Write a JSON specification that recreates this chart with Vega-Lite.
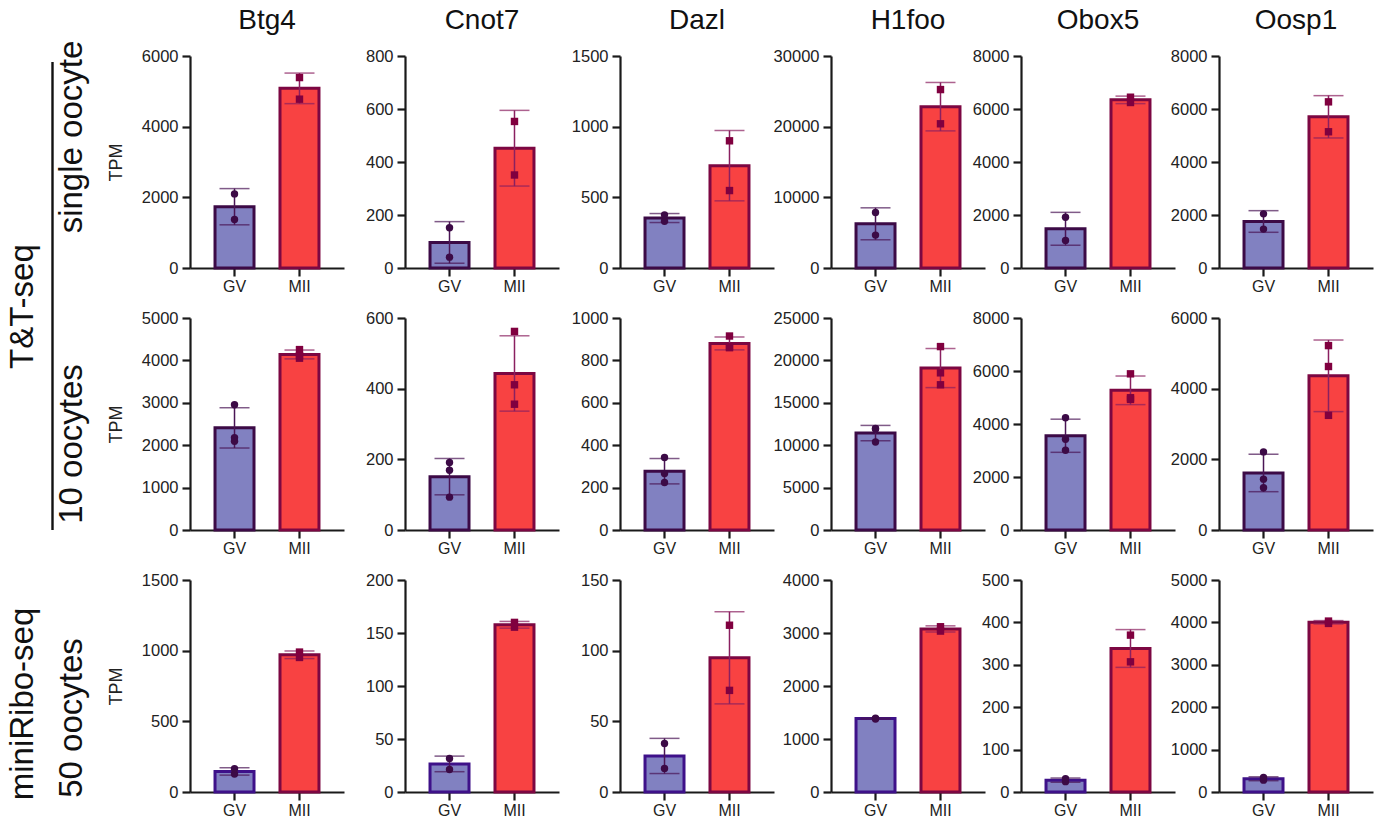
{
"$schema": "https://vega.github.io/schema/vega-lite/v6.json",
"background": "white",
"padding": {"left": 6, "top": 7, "right": 4, "bottom": 2},
"datasets": {"tpm": [
{"set":"single oocyte","gene":"Btg4","stage":"GV","tpm":2097},{"set":"single oocyte","gene":"Btg4","stage":"GV","tpm":1372},
{"set":"single oocyte","gene":"Btg4","stage":"MII","tpm":5390},{"set":"single oocyte","gene":"Btg4","stage":"MII","tpm":4778},
{"set":"single oocyte","gene":"Cnot7","stage":"GV","tpm":152},{"set":"single oocyte","gene":"Cnot7","stage":"GV","tpm":41},
{"set":"single oocyte","gene":"Cnot7","stage":"MII","tpm":553},{"set":"single oocyte","gene":"Cnot7","stage":"MII","tpm":351},
{"set":"single oocyte","gene":"Dazl","stage":"GV","tpm":331},{"set":"single oocyte","gene":"Dazl","stage":"GV","tpm":376},
{"set":"single oocyte","gene":"Dazl","stage":"MII","tpm":900},{"set":"single oocyte","gene":"Dazl","stage":"MII","tpm":548},
{"set":"single oocyte","gene":"H1foo","stage":"GV","tpm":7853},{"set":"single oocyte","gene":"H1foo","stage":"GV","tpm":4655},
{"set":"single oocyte","gene":"H1foo","stage":"MII","tpm":25251},{"set":"single oocyte","gene":"H1foo","stage":"MII","tpm":20407},
{"set":"single oocyte","gene":"Obox5","stage":"GV","tpm":1918},{"set":"single oocyte","gene":"Obox5","stage":"GV","tpm":1041},
{"set":"single oocyte","gene":"Obox5","stage":"MII","tpm":6245},{"set":"single oocyte","gene":"Obox5","stage":"MII","tpm":6445},
{"set":"single oocyte","gene":"Oosp1","stage":"GV","tpm":2044},{"set":"single oocyte","gene":"Oosp1","stage":"GV","tpm":1467},
{"set":"single oocyte","gene":"Oosp1","stage":"MII","tpm":6270},{"set":"single oocyte","gene":"Oosp1","stage":"MII","tpm":5141},
{"set":"10 oocytes","gene":"Btg4","stage":"GV","tpm":2955},{"set":"10 oocytes","gene":"Btg4","stage":"GV","tpm":2092},{"set":"10 oocytes","gene":"Btg4","stage":"GV","tpm":2179},
{"set":"10 oocytes","gene":"Btg4","stage":"MII","tpm":4255},{"set":"10 oocytes","gene":"Btg4","stage":"MII","tpm":4052},{"set":"10 oocytes","gene":"Btg4","stage":"MII","tpm":4114},
{"set":"10 oocytes","gene":"Cnot7","stage":"GV","tpm":191},{"set":"10 oocytes","gene":"Cnot7","stage":"GV","tpm":169},{"set":"10 oocytes","gene":"Cnot7","stage":"GV","tpm":93},
{"set":"10 oocytes","gene":"Cnot7","stage":"MII","tpm":562},{"set":"10 oocytes","gene":"Cnot7","stage":"MII","tpm":411},{"set":"10 oocytes","gene":"Cnot7","stage":"MII","tpm":356},
{"set":"10 oocytes","gene":"Dazl","stage":"GV","tpm":342},{"set":"10 oocytes","gene":"Dazl","stage":"GV","tpm":266},{"set":"10 oocytes","gene":"Dazl","stage":"GV","tpm":224},
{"set":"10 oocytes","gene":"Dazl","stage":"MII","tpm":915},{"set":"10 oocytes","gene":"Dazl","stage":"MII","tpm":860},{"set":"10 oocytes","gene":"Dazl","stage":"MII","tpm":865},
{"set":"10 oocytes","gene":"H1foo","stage":"GV","tpm":11980},{"set":"10 oocytes","gene":"H1foo","stage":"GV","tpm":11920},{"set":"10 oocytes","gene":"H1foo","stage":"GV","tpm":10384},
{"set":"10 oocytes","gene":"H1foo","stage":"MII","tpm":21630},{"set":"10 oocytes","gene":"H1foo","stage":"MII","tpm":18534},{"set":"10 oocytes","gene":"H1foo","stage":"MII","tpm":17124},
{"set":"10 oocytes","gene":"Obox5","stage":"GV","tpm":4238},{"set":"10 oocytes","gene":"Obox5","stage":"GV","tpm":3423},{"set":"10 oocytes","gene":"Obox5","stage":"GV","tpm":3009},
{"set":"10 oocytes","gene":"Obox5","stage":"MII","tpm":5893},{"set":"10 oocytes","gene":"Obox5","stage":"MII","tpm":4928},{"set":"10 oocytes","gene":"Obox5","stage":"MII","tpm":4991},
{"set":"10 oocytes","gene":"Oosp1","stage":"GV","tpm":2210},{"set":"10 oocytes","gene":"Oosp1","stage":"GV","tpm":1439},{"set":"10 oocytes","gene":"Oosp1","stage":"GV","tpm":1194},
{"set":"10 oocytes","gene":"Oosp1","stage":"MII","tpm":5219},{"set":"10 oocytes","gene":"Oosp1","stage":"MII","tpm":4627},{"set":"10 oocytes","gene":"Oosp1","stage":"MII","tpm":3245},
{"set":"50 oocytes","gene":"Btg4","stage":"GV","tpm":127},{"set":"50 oocytes","gene":"Btg4","stage":"GV","tpm":164},
{"set":"50 oocytes","gene":"Btg4","stage":"MII","tpm":990},{"set":"50 oocytes","gene":"Btg4","stage":"MII","tpm":952},
{"set":"50 oocytes","gene":"Cnot7","stage":"GV","tpm":31.7},{"set":"50 oocytes","gene":"Cnot7","stage":"GV","tpm":21.3},
{"set":"50 oocytes","gene":"Cnot7","stage":"MII","tpm":155.5},{"set":"50 oocytes","gene":"Cnot7","stage":"MII","tpm":160},
{"set":"50 oocytes","gene":"Dazl","stage":"GV","tpm":34.3},{"set":"50 oocytes","gene":"Dazl","stage":"GV","tpm":16.7},
{"set":"50 oocytes","gene":"Dazl","stage":"MII","tpm":118},{"set":"50 oocytes","gene":"Dazl","stage":"MII","tpm":71.9},
{"set":"50 oocytes","gene":"H1foo","stage":"GV","tpm":1378},{"set":"50 oocytes","gene":"H1foo","stage":"GV","tpm":1392},
{"set":"50 oocytes","gene":"H1foo","stage":"MII","tpm":3036},{"set":"50 oocytes","gene":"H1foo","stage":"MII","tpm":3118},
{"set":"50 oocytes","gene":"Obox5","stage":"GV","tpm":24.4},{"set":"50 oocytes","gene":"Obox5","stage":"GV","tpm":31.5},
{"set":"50 oocytes","gene":"Obox5","stage":"MII","tpm":370},{"set":"50 oocytes","gene":"Obox5","stage":"MII","tpm":307},
{"set":"50 oocytes","gene":"Oosp1","stage":"GV","tpm":280},{"set":"50 oocytes","gene":"Oosp1","stage":"GV","tpm":345},
{"set":"50 oocytes","gene":"Oosp1","stage":"MII","tpm":3976},{"set":"50 oocytes","gene":"Oosp1","stage":"MII","tpm":4031}
]},
"config": {
  "font": "Liberation Sans",
  "view": {"stroke": null},
  "numberFormat": "d",
  "axis": {"grid": false, "domainColor": "#1a1a1a", "domainWidth": 2.2, "tickColor": "#1a1a1a", "tickWidth": 2.2, "tickSize": 8, "labelFont": "Liberation Sans", "labelFontSize": 16.5, "labelColor": "#222222", "titleFont": "Liberation Sans", "titleFontSize": 18, "titleFontWeight": "normal", "titleColor": "#222222"},
  "axisX": {"labelAngle": 0, "labelPadding": 2, "labelFontSize": 16},
  "axisY": {"labelPadding": 4, "titlePadding": 16, "titleFontSize": 18, "labelFlush": false, "labelOverlap": false},
  "title": {"font": "Liberation Sans", "fontSize": 28, "fontWeight": "normal", "color": "#111111", "offset": 13, "frame": "group"}
},
"bounds": "flush",
"align": "each",
"columns": 13,
"spacing": {"row": 50, "column": 17},
"concat": [
{"width": 1, "height": 212, "title": {"text": "T&T-seq", "orient": "left", "fontSize": 33, "offset": 11, "frame": "bounds", "anchor": "middle", "dx": -13}, "data": {"values": [{"part": "bracket"}]}, "mark": {"type": "rule", "color": "#111111", "strokeWidth": 2.4, "clip": false}, "encoding": {"y": {"datum": 0, "type": "quantitative", "scale": {"domain": [0, 1], "range": [474, 6], "nice": false, "zero": false}, "axis": null}, "y2": {"datum": 1}}},
{"width": 103, "height": 212, "title": {"text": "single oocyte", "orient": "left", "fontSize": 33, "offset": -19, "frame": "group", "anchor": "middle", "dx": 25}, "data": {"values": [{}]}, "mark": {"type": "point", "opacity": 0}, "encoding": {}},
{"width": 154, "height": 212, "title": "Btg4", "data": {"name": "tpm"}, "transform": [{"filter": "datum.set==='single oocyte'&&datum.gene==='Btg4'"}],
 "encoding": {"x": {"field": "stage", "type": "nominal", "scale": {"domain": ["GV","MII"], "paddingInner": 0.4, "paddingOuter": 0.385}, "axis": {"title": null}}},
 "layer": [
  {"mark": {"type": "bar", "strokeWidth": 3}, "encoding": {"y": {"aggregate": "mean", "field": "tpm", "type": "quantitative", "title": "TPM", "scale": {"domain": [0,6000], "nice": false}, "axis": {"values": [0,2000,4000,6000], "format": "d"}}, "fill": {"condition": {"test": "datum.stage==='GV'", "value": "#8181c1"}, "value": "#f84242"}, "stroke": {"condition": {"test": "datum.stage==='GV'", "value": "#3c0a46"}, "value": "#7c0742"}}},
  {"mark": {"type": "errorbar", "extent": "stdev", "ticks": {"size": 30, "thickness": 1.5}, "rule": {"strokeWidth": 1.5}}, "encoding": {"y": {"field": "tpm", "type": "quantitative", "title": "TPM"}, "color": {"condition": {"test": "datum.stage==='GV'", "value": "#4a1555"}, "value": "#8a2060"}}},
  {"mark": {"type": "point", "filled": true, "size": 55, "opacity": 1}, "encoding": {"y": {"field": "tpm", "type": "quantitative", "title": "TPM"}, "shape": {"condition": {"test": "datum.stage==='GV'", "value": "circle"}, "value": "square"}, "color": {"condition": {"test": "datum.stage==='GV'", "value": "#3c0a46"}, "value": "#80003f"}}}
 ]},
{"width": 27, "height": 1, "data": {"values": [{}]}, "mark": {"type": "point", "opacity": 0}, "encoding": {}},
{"width": 154, "height": 212, "title": "Cnot7", "data": {"name": "tpm"}, "transform": [{"filter": "datum.set==='single oocyte'&&datum.gene==='Cnot7'"}],
 "encoding": {"x": {"field": "stage", "type": "nominal", "scale": {"domain": ["GV","MII"], "paddingInner": 0.4, "paddingOuter": 0.385}, "axis": {"title": null}}},
 "layer": [
  {"mark": {"type": "bar", "strokeWidth": 3}, "encoding": {"y": {"aggregate": "mean", "field": "tpm", "type": "quantitative", "title": null, "scale": {"domain": [0,800], "nice": false}, "axis": {"values": [0,200,400,600,800], "format": "d"}}, "fill": {"condition": {"test": "datum.stage==='GV'", "value": "#8181c1"}, "value": "#f84242"}, "stroke": {"condition": {"test": "datum.stage==='GV'", "value": "#3c0a46"}, "value": "#7c0742"}}},
  {"mark": {"type": "errorbar", "extent": "stdev", "ticks": {"size": 30, "thickness": 1.5}, "rule": {"strokeWidth": 1.5}}, "encoding": {"y": {"field": "tpm", "type": "quantitative", "title": null}, "color": {"condition": {"test": "datum.stage==='GV'", "value": "#4a1555"}, "value": "#8a2060"}}},
  {"mark": {"type": "point", "filled": true, "size": 55, "opacity": 1}, "encoding": {"y": {"field": "tpm", "type": "quantitative", "title": null}, "shape": {"condition": {"test": "datum.stage==='GV'", "value": "circle"}, "value": "square"}, "color": {"condition": {"test": "datum.stage==='GV'", "value": "#3c0a46"}, "value": "#80003f"}}}
 ]},
{"width": 27, "height": 1, "data": {"values": [{}]}, "mark": {"type": "point", "opacity": 0}, "encoding": {}},
{"width": 154, "height": 212, "title": "Dazl", "data": {"name": "tpm"}, "transform": [{"filter": "datum.set==='single oocyte'&&datum.gene==='Dazl'"}],
 "encoding": {"x": {"field": "stage", "type": "nominal", "scale": {"domain": ["GV","MII"], "paddingInner": 0.4, "paddingOuter": 0.385}, "axis": {"title": null}}},
 "layer": [
  {"mark": {"type": "bar", "strokeWidth": 3}, "encoding": {"y": {"aggregate": "mean", "field": "tpm", "type": "quantitative", "title": null, "scale": {"domain": [0,1500], "nice": false}, "axis": {"values": [0,500,1000,1500], "format": "d"}}, "fill": {"condition": {"test": "datum.stage==='GV'", "value": "#8181c1"}, "value": "#f84242"}, "stroke": {"condition": {"test": "datum.stage==='GV'", "value": "#3c0a46"}, "value": "#7c0742"}}},
  {"mark": {"type": "errorbar", "extent": "stdev", "ticks": {"size": 30, "thickness": 1.5}, "rule": {"strokeWidth": 1.5}}, "encoding": {"y": {"field": "tpm", "type": "quantitative", "title": null}, "color": {"condition": {"test": "datum.stage==='GV'", "value": "#4a1555"}, "value": "#8a2060"}}},
  {"mark": {"type": "point", "filled": true, "size": 55, "opacity": 1}, "encoding": {"y": {"field": "tpm", "type": "quantitative", "title": null}, "shape": {"condition": {"test": "datum.stage==='GV'", "value": "circle"}, "value": "square"}, "color": {"condition": {"test": "datum.stage==='GV'", "value": "#3c0a46"}, "value": "#80003f"}}}
 ]},
{"width": 23, "height": 1, "data": {"values": [{}]}, "mark": {"type": "point", "opacity": 0}, "encoding": {}},
{"width": 154, "height": 212, "title": "H1foo", "data": {"name": "tpm"}, "transform": [{"filter": "datum.set==='single oocyte'&&datum.gene==='H1foo'"}],
 "encoding": {"x": {"field": "stage", "type": "nominal", "scale": {"domain": ["GV","MII"], "paddingInner": 0.4, "paddingOuter": 0.385}, "axis": {"title": null}}},
 "layer": [
  {"mark": {"type": "bar", "strokeWidth": 3}, "encoding": {"y": {"aggregate": "mean", "field": "tpm", "type": "quantitative", "title": null, "scale": {"domain": [0,30000], "nice": false}, "axis": {"values": [0,10000,20000,30000], "format": "d"}}, "fill": {"condition": {"test": "datum.stage==='GV'", "value": "#8181c1"}, "value": "#f84242"}, "stroke": {"condition": {"test": "datum.stage==='GV'", "value": "#3c0a46"}, "value": "#7c0742"}}},
  {"mark": {"type": "errorbar", "extent": "stdev", "ticks": {"size": 30, "thickness": 1.5}, "rule": {"strokeWidth": 1.5}}, "encoding": {"y": {"field": "tpm", "type": "quantitative", "title": null}, "color": {"condition": {"test": "datum.stage==='GV'", "value": "#4a1555"}, "value": "#8a2060"}}},
  {"mark": {"type": "point", "filled": true, "size": 55, "opacity": 1}, "encoding": {"y": {"field": "tpm", "type": "quantitative", "title": null}, "shape": {"condition": {"test": "datum.stage==='GV'", "value": "circle"}, "value": "square"}, "color": {"condition": {"test": "datum.stage==='GV'", "value": "#3c0a46"}, "value": "#80003f"}}}
 ]},
{"width": 2, "height": 1, "data": {"values": [{}]}, "mark": {"type": "point", "opacity": 0}, "encoding": {}},
{"width": 154, "height": 212, "title": "Obox5", "data": {"name": "tpm"}, "transform": [{"filter": "datum.set==='single oocyte'&&datum.gene==='Obox5'"}],
 "encoding": {"x": {"field": "stage", "type": "nominal", "scale": {"domain": ["GV","MII"], "paddingInner": 0.4, "paddingOuter": 0.385}, "axis": {"title": null}}},
 "layer": [
  {"mark": {"type": "bar", "strokeWidth": 3}, "encoding": {"y": {"aggregate": "mean", "field": "tpm", "type": "quantitative", "title": null, "scale": {"domain": [0,8000], "nice": false}, "axis": {"values": [0,2000,4000,6000,8000], "format": "d"}}, "fill": {"condition": {"test": "datum.stage==='GV'", "value": "#8181c1"}, "value": "#f84242"}, "stroke": {"condition": {"test": "datum.stage==='GV'", "value": "#3c0a46"}, "value": "#7c0742"}}},
  {"mark": {"type": "errorbar", "extent": "stdev", "ticks": {"size": 30, "thickness": 1.5}, "rule": {"strokeWidth": 1.5}}, "encoding": {"y": {"field": "tpm", "type": "quantitative", "title": null}, "color": {"condition": {"test": "datum.stage==='GV'", "value": "#4a1555"}, "value": "#8a2060"}}},
  {"mark": {"type": "point", "filled": true, "size": 55, "opacity": 1}, "encoding": {"y": {"field": "tpm", "type": "quantitative", "title": null}, "shape": {"condition": {"test": "datum.stage==='GV'", "value": "circle"}, "value": "square"}, "color": {"condition": {"test": "datum.stage==='GV'", "value": "#3c0a46"}, "value": "#80003f"}}}
 ]},
{"width": 10, "height": 1, "data": {"values": [{}]}, "mark": {"type": "point", "opacity": 0}, "encoding": {}},
{"width": 154, "height": 212, "title": "Oosp1", "data": {"name": "tpm"}, "transform": [{"filter": "datum.set==='single oocyte'&&datum.gene==='Oosp1'"}],
 "encoding": {"x": {"field": "stage", "type": "nominal", "scale": {"domain": ["GV","MII"], "paddingInner": 0.4, "paddingOuter": 0.385}, "axis": {"title": null}}},
 "layer": [
  {"mark": {"type": "bar", "strokeWidth": 3}, "encoding": {"y": {"aggregate": "mean", "field": "tpm", "type": "quantitative", "title": null, "scale": {"domain": [0,8000], "nice": false}, "axis": {"values": [0,2000,4000,6000,8000], "format": "d"}}, "fill": {"condition": {"test": "datum.stage==='GV'", "value": "#8181c1"}, "value": "#f84242"}, "stroke": {"condition": {"test": "datum.stage==='GV'", "value": "#3c0a46"}, "value": "#7c0742"}}},
  {"mark": {"type": "errorbar", "extent": "stdev", "ticks": {"size": 30, "thickness": 1.5}, "rule": {"strokeWidth": 1.5}}, "encoding": {"y": {"field": "tpm", "type": "quantitative", "title": null}, "color": {"condition": {"test": "datum.stage==='GV'", "value": "#4a1555"}, "value": "#8a2060"}}},
  {"mark": {"type": "point", "filled": true, "size": 55, "opacity": 1}, "encoding": {"y": {"field": "tpm", "type": "quantitative", "title": null}, "shape": {"condition": {"test": "datum.stage==='GV'", "value": "circle"}, "value": "square"}, "color": {"condition": {"test": "datum.stage==='GV'", "value": "#3c0a46"}, "value": "#80003f"}}}
 ]},

{"width": 1, "height": 212, "data": {"values": [{}]}, "mark": {"type": "point", "opacity": 0}, "encoding": {}},
{"width": 103, "height": 212, "title": {"text": "10 oocytes", "orient": "left", "fontSize": 33, "offset": -19, "frame": "group", "anchor": "middle", "dx": -20}, "data": {"values": [{}]}, "mark": {"type": "point", "opacity": 0}, "encoding": {}},
{"width": 154, "height": 212, "data": {"name": "tpm"}, "transform": [{"filter": "datum.set==='10 oocytes'&&datum.gene==='Btg4'"}],
 "encoding": {"x": {"field": "stage", "type": "nominal", "scale": {"domain": ["GV","MII"], "paddingInner": 0.4, "paddingOuter": 0.385}, "axis": {"title": null}}},
 "layer": [
  {"mark": {"type": "bar", "strokeWidth": 3}, "encoding": {"y": {"aggregate": "mean", "field": "tpm", "type": "quantitative", "title": "TPM", "scale": {"domain": [0,5000], "nice": false}, "axis": {"values": [0,1000,2000,3000,4000,5000], "format": "d"}}, "fill": {"condition": {"test": "datum.stage==='GV'", "value": "#8181c1"}, "value": "#f84242"}, "stroke": {"condition": {"test": "datum.stage==='GV'", "value": "#3c0a46"}, "value": "#7c0742"}}},
  {"mark": {"type": "errorbar", "extent": "stdev", "ticks": {"size": 30, "thickness": 1.5}, "rule": {"strokeWidth": 1.5}}, "encoding": {"y": {"field": "tpm", "type": "quantitative", "title": "TPM"}, "color": {"condition": {"test": "datum.stage==='GV'", "value": "#4a1555"}, "value": "#8a2060"}}},
  {"mark": {"type": "point", "filled": true, "size": 55, "opacity": 1}, "encoding": {"y": {"field": "tpm", "type": "quantitative", "title": "TPM"}, "shape": {"condition": {"test": "datum.stage==='GV'", "value": "circle"}, "value": "square"}, "color": {"condition": {"test": "datum.stage==='GV'", "value": "#3c0a46"}, "value": "#80003f"}}}
 ]},
{"width": 27, "height": 1, "data": {"values": [{}]}, "mark": {"type": "point", "opacity": 0}, "encoding": {}},
{"width": 154, "height": 212, "data": {"name": "tpm"}, "transform": [{"filter": "datum.set==='10 oocytes'&&datum.gene==='Cnot7'"}],
 "encoding": {"x": {"field": "stage", "type": "nominal", "scale": {"domain": ["GV","MII"], "paddingInner": 0.4, "paddingOuter": 0.385}, "axis": {"title": null}}},
 "layer": [
  {"mark": {"type": "bar", "strokeWidth": 3}, "encoding": {"y": {"aggregate": "mean", "field": "tpm", "type": "quantitative", "title": null, "scale": {"domain": [0,600], "nice": false}, "axis": {"values": [0,200,400,600], "format": "d"}}, "fill": {"condition": {"test": "datum.stage==='GV'", "value": "#8181c1"}, "value": "#f84242"}, "stroke": {"condition": {"test": "datum.stage==='GV'", "value": "#3c0a46"}, "value": "#7c0742"}}},
  {"mark": {"type": "errorbar", "extent": "stdev", "ticks": {"size": 30, "thickness": 1.5}, "rule": {"strokeWidth": 1.5}}, "encoding": {"y": {"field": "tpm", "type": "quantitative", "title": null}, "color": {"condition": {"test": "datum.stage==='GV'", "value": "#4a1555"}, "value": "#8a2060"}}},
  {"mark": {"type": "point", "filled": true, "size": 55, "opacity": 1}, "encoding": {"y": {"field": "tpm", "type": "quantitative", "title": null}, "shape": {"condition": {"test": "datum.stage==='GV'", "value": "circle"}, "value": "square"}, "color": {"condition": {"test": "datum.stage==='GV'", "value": "#3c0a46"}, "value": "#80003f"}}}
 ]},
{"width": 27, "height": 1, "data": {"values": [{}]}, "mark": {"type": "point", "opacity": 0}, "encoding": {}},
{"width": 154, "height": 212, "data": {"name": "tpm"}, "transform": [{"filter": "datum.set==='10 oocytes'&&datum.gene==='Dazl'"}],
 "encoding": {"x": {"field": "stage", "type": "nominal", "scale": {"domain": ["GV","MII"], "paddingInner": 0.4, "paddingOuter": 0.385}, "axis": {"title": null}}},
 "layer": [
  {"mark": {"type": "bar", "strokeWidth": 3}, "encoding": {"y": {"aggregate": "mean", "field": "tpm", "type": "quantitative", "title": null, "scale": {"domain": [0,1000], "nice": false}, "axis": {"values": [0,200,400,600,800,1000], "format": "d"}}, "fill": {"condition": {"test": "datum.stage==='GV'", "value": "#8181c1"}, "value": "#f84242"}, "stroke": {"condition": {"test": "datum.stage==='GV'", "value": "#3c0a46"}, "value": "#7c0742"}}},
  {"mark": {"type": "errorbar", "extent": "stdev", "ticks": {"size": 30, "thickness": 1.5}, "rule": {"strokeWidth": 1.5}}, "encoding": {"y": {"field": "tpm", "type": "quantitative", "title": null}, "color": {"condition": {"test": "datum.stage==='GV'", "value": "#4a1555"}, "value": "#8a2060"}}},
  {"mark": {"type": "point", "filled": true, "size": 55, "opacity": 1}, "encoding": {"y": {"field": "tpm", "type": "quantitative", "title": null}, "shape": {"condition": {"test": "datum.stage==='GV'", "value": "circle"}, "value": "square"}, "color": {"condition": {"test": "datum.stage==='GV'", "value": "#3c0a46"}, "value": "#80003f"}}}
 ]},
{"width": 23, "height": 1, "data": {"values": [{}]}, "mark": {"type": "point", "opacity": 0}, "encoding": {}},
{"width": 154, "height": 212, "data": {"name": "tpm"}, "transform": [{"filter": "datum.set==='10 oocytes'&&datum.gene==='H1foo'"}],
 "encoding": {"x": {"field": "stage", "type": "nominal", "scale": {"domain": ["GV","MII"], "paddingInner": 0.4, "paddingOuter": 0.385}, "axis": {"title": null}}},
 "layer": [
  {"mark": {"type": "bar", "strokeWidth": 3}, "encoding": {"y": {"aggregate": "mean", "field": "tpm", "type": "quantitative", "title": null, "scale": {"domain": [0,25000], "nice": false}, "axis": {"values": [0,5000,10000,15000,20000,25000], "format": "d"}}, "fill": {"condition": {"test": "datum.stage==='GV'", "value": "#8181c1"}, "value": "#f84242"}, "stroke": {"condition": {"test": "datum.stage==='GV'", "value": "#3c0a46"}, "value": "#7c0742"}}},
  {"mark": {"type": "errorbar", "extent": "stdev", "ticks": {"size": 30, "thickness": 1.5}, "rule": {"strokeWidth": 1.5}}, "encoding": {"y": {"field": "tpm", "type": "quantitative", "title": null}, "color": {"condition": {"test": "datum.stage==='GV'", "value": "#4a1555"}, "value": "#8a2060"}}},
  {"mark": {"type": "point", "filled": true, "size": 55, "opacity": 1}, "encoding": {"y": {"field": "tpm", "type": "quantitative", "title": null}, "shape": {"condition": {"test": "datum.stage==='GV'", "value": "circle"}, "value": "square"}, "color": {"condition": {"test": "datum.stage==='GV'", "value": "#3c0a46"}, "value": "#80003f"}}}
 ]},
{"width": 2, "height": 1, "data": {"values": [{}]}, "mark": {"type": "point", "opacity": 0}, "encoding": {}},
{"width": 154, "height": 212, "data": {"name": "tpm"}, "transform": [{"filter": "datum.set==='10 oocytes'&&datum.gene==='Obox5'"}],
 "encoding": {"x": {"field": "stage", "type": "nominal", "scale": {"domain": ["GV","MII"], "paddingInner": 0.4, "paddingOuter": 0.385}, "axis": {"title": null}}},
 "layer": [
  {"mark": {"type": "bar", "strokeWidth": 3}, "encoding": {"y": {"aggregate": "mean", "field": "tpm", "type": "quantitative", "title": null, "scale": {"domain": [0,8000], "nice": false}, "axis": {"values": [0,2000,4000,6000,8000], "format": "d"}}, "fill": {"condition": {"test": "datum.stage==='GV'", "value": "#8181c1"}, "value": "#f84242"}, "stroke": {"condition": {"test": "datum.stage==='GV'", "value": "#3c0a46"}, "value": "#7c0742"}}},
  {"mark": {"type": "errorbar", "extent": "stdev", "ticks": {"size": 30, "thickness": 1.5}, "rule": {"strokeWidth": 1.5}}, "encoding": {"y": {"field": "tpm", "type": "quantitative", "title": null}, "color": {"condition": {"test": "datum.stage==='GV'", "value": "#4a1555"}, "value": "#8a2060"}}},
  {"mark": {"type": "point", "filled": true, "size": 55, "opacity": 1}, "encoding": {"y": {"field": "tpm", "type": "quantitative", "title": null}, "shape": {"condition": {"test": "datum.stage==='GV'", "value": "circle"}, "value": "square"}, "color": {"condition": {"test": "datum.stage==='GV'", "value": "#3c0a46"}, "value": "#80003f"}}}
 ]},
{"width": 10, "height": 1, "data": {"values": [{}]}, "mark": {"type": "point", "opacity": 0}, "encoding": {}},
{"width": 154, "height": 212, "data": {"name": "tpm"}, "transform": [{"filter": "datum.set==='10 oocytes'&&datum.gene==='Oosp1'"}],
 "encoding": {"x": {"field": "stage", "type": "nominal", "scale": {"domain": ["GV","MII"], "paddingInner": 0.4, "paddingOuter": 0.385}, "axis": {"title": null}}},
 "layer": [
  {"mark": {"type": "bar", "strokeWidth": 3}, "encoding": {"y": {"aggregate": "mean", "field": "tpm", "type": "quantitative", "title": null, "scale": {"domain": [0,6000], "nice": false}, "axis": {"values": [0,2000,4000,6000], "format": "d"}}, "fill": {"condition": {"test": "datum.stage==='GV'", "value": "#8181c1"}, "value": "#f84242"}, "stroke": {"condition": {"test": "datum.stage==='GV'", "value": "#3c0a46"}, "value": "#7c0742"}}},
  {"mark": {"type": "errorbar", "extent": "stdev", "ticks": {"size": 30, "thickness": 1.5}, "rule": {"strokeWidth": 1.5}}, "encoding": {"y": {"field": "tpm", "type": "quantitative", "title": null}, "color": {"condition": {"test": "datum.stage==='GV'", "value": "#4a1555"}, "value": "#8a2060"}}},
  {"mark": {"type": "point", "filled": true, "size": 55, "opacity": 1}, "encoding": {"y": {"field": "tpm", "type": "quantitative", "title": null}, "shape": {"condition": {"test": "datum.stage==='GV'", "value": "circle"}, "value": "square"}, "color": {"condition": {"test": "datum.stage==='GV'", "value": "#3c0a46"}, "value": "#80003f"}}}
 ]},

{"width": 1, "height": 212, "title": {"text": "miniRibo-seq", "orient": "left", "fontSize": 33, "offset": 10, "frame": "group", "anchor": "middle", "dx": -18}, "data": {"values": [{}]}, "mark": {"type": "point", "opacity": 0}, "encoding": {}},
{"width": 103, "height": 212, "title": {"text": "50 oocytes", "orient": "left", "fontSize": 33, "offset": -19, "frame": "group", "anchor": "middle", "dx": -32}, "data": {"values": [{}]}, "mark": {"type": "point", "opacity": 0}, "encoding": {}},
{"width": 154, "height": 212, "data": {"name": "tpm"}, "transform": [{"filter": "datum.set==='50 oocytes'&&datum.gene==='Btg4'"}],
 "encoding": {"x": {"field": "stage", "type": "nominal", "scale": {"domain": ["GV","MII"], "paddingInner": 0.4, "paddingOuter": 0.385}, "axis": {"title": null}}},
 "layer": [
  {"mark": {"type": "bar", "strokeWidth": 3}, "encoding": {"y": {"aggregate": "mean", "field": "tpm", "type": "quantitative", "title": "TPM", "scale": {"domain": [0,1500], "nice": false}, "axis": {"values": [0,500,1000,1500], "format": "d"}}, "fill": {"condition": {"test": "datum.stage==='GV'", "value": "#8181c1"}, "value": "#f84242"}, "stroke": {"condition": {"test": "datum.stage==='GV'", "value": "#3e1189"}, "value": "#7c0742"}}},
  {"mark": {"type": "errorbar", "extent": "stdev", "ticks": {"size": 30, "thickness": 1.5}, "rule": {"strokeWidth": 1.5}}, "encoding": {"y": {"field": "tpm", "type": "quantitative", "title": "TPM"}, "color": {"condition": {"test": "datum.stage==='GV'", "value": "#4a1555"}, "value": "#8a2060"}}},
  {"mark": {"type": "point", "filled": true, "size": 55, "opacity": 1}, "encoding": {"y": {"field": "tpm", "type": "quantitative", "title": "TPM"}, "shape": {"condition": {"test": "datum.stage==='GV'", "value": "circle"}, "value": "square"}, "color": {"condition": {"test": "datum.stage==='GV'", "value": "#3c0a46"}, "value": "#80003f"}}}
 ]},
{"width": 27, "height": 1, "data": {"values": [{}]}, "mark": {"type": "point", "opacity": 0}, "encoding": {}},
{"width": 154, "height": 212, "data": {"name": "tpm"}, "transform": [{"filter": "datum.set==='50 oocytes'&&datum.gene==='Cnot7'"}],
 "encoding": {"x": {"field": "stage", "type": "nominal", "scale": {"domain": ["GV","MII"], "paddingInner": 0.4, "paddingOuter": 0.385}, "axis": {"title": null}}},
 "layer": [
  {"mark": {"type": "bar", "strokeWidth": 3}, "encoding": {"y": {"aggregate": "mean", "field": "tpm", "type": "quantitative", "title": null, "scale": {"domain": [0,200], "nice": false}, "axis": {"values": [0,50,100,150,200], "format": "d"}}, "fill": {"condition": {"test": "datum.stage==='GV'", "value": "#8181c1"}, "value": "#f84242"}, "stroke": {"condition": {"test": "datum.stage==='GV'", "value": "#3e1189"}, "value": "#7c0742"}}},
  {"mark": {"type": "errorbar", "extent": "stdev", "ticks": {"size": 30, "thickness": 1.5}, "rule": {"strokeWidth": 1.5}}, "encoding": {"y": {"field": "tpm", "type": "quantitative", "title": null}, "color": {"condition": {"test": "datum.stage==='GV'", "value": "#4a1555"}, "value": "#8a2060"}}},
  {"mark": {"type": "point", "filled": true, "size": 55, "opacity": 1}, "encoding": {"y": {"field": "tpm", "type": "quantitative", "title": null}, "shape": {"condition": {"test": "datum.stage==='GV'", "value": "circle"}, "value": "square"}, "color": {"condition": {"test": "datum.stage==='GV'", "value": "#3c0a46"}, "value": "#80003f"}}}
 ]},
{"width": 27, "height": 1, "data": {"values": [{}]}, "mark": {"type": "point", "opacity": 0}, "encoding": {}},
{"width": 154, "height": 212, "data": {"name": "tpm"}, "transform": [{"filter": "datum.set==='50 oocytes'&&datum.gene==='Dazl'"}],
 "encoding": {"x": {"field": "stage", "type": "nominal", "scale": {"domain": ["GV","MII"], "paddingInner": 0.4, "paddingOuter": 0.385}, "axis": {"title": null}}},
 "layer": [
  {"mark": {"type": "bar", "strokeWidth": 3}, "encoding": {"y": {"aggregate": "mean", "field": "tpm", "type": "quantitative", "title": null, "scale": {"domain": [0,150], "nice": false}, "axis": {"values": [0,50,100,150], "format": "d"}}, "fill": {"condition": {"test": "datum.stage==='GV'", "value": "#8181c1"}, "value": "#f84242"}, "stroke": {"condition": {"test": "datum.stage==='GV'", "value": "#3e1189"}, "value": "#7c0742"}}},
  {"mark": {"type": "errorbar", "extent": "stdev", "ticks": {"size": 30, "thickness": 1.5}, "rule": {"strokeWidth": 1.5}}, "encoding": {"y": {"field": "tpm", "type": "quantitative", "title": null}, "color": {"condition": {"test": "datum.stage==='GV'", "value": "#4a1555"}, "value": "#8a2060"}}},
  {"mark": {"type": "point", "filled": true, "size": 55, "opacity": 1}, "encoding": {"y": {"field": "tpm", "type": "quantitative", "title": null}, "shape": {"condition": {"test": "datum.stage==='GV'", "value": "circle"}, "value": "square"}, "color": {"condition": {"test": "datum.stage==='GV'", "value": "#3c0a46"}, "value": "#80003f"}}}
 ]},
{"width": 23, "height": 1, "data": {"values": [{}]}, "mark": {"type": "point", "opacity": 0}, "encoding": {}},
{"width": 154, "height": 212, "data": {"name": "tpm"}, "transform": [{"filter": "datum.set==='50 oocytes'&&datum.gene==='H1foo'"}],
 "encoding": {"x": {"field": "stage", "type": "nominal", "scale": {"domain": ["GV","MII"], "paddingInner": 0.4, "paddingOuter": 0.385}, "axis": {"title": null}}},
 "layer": [
  {"mark": {"type": "bar", "strokeWidth": 3}, "encoding": {"y": {"aggregate": "mean", "field": "tpm", "type": "quantitative", "title": null, "scale": {"domain": [0,4000], "nice": false}, "axis": {"values": [0,1000,2000,3000,4000], "format": "d"}}, "fill": {"condition": {"test": "datum.stage==='GV'", "value": "#8181c1"}, "value": "#f84242"}, "stroke": {"condition": {"test": "datum.stage==='GV'", "value": "#3e1189"}, "value": "#7c0742"}}},
  {"mark": {"type": "errorbar", "extent": "stdev", "ticks": {"size": 30, "thickness": 1.5}, "rule": {"strokeWidth": 1.5}}, "encoding": {"y": {"field": "tpm", "type": "quantitative", "title": null}, "color": {"condition": {"test": "datum.stage==='GV'", "value": "#4a1555"}, "value": "#8a2060"}}},
  {"mark": {"type": "point", "filled": true, "size": 55, "opacity": 1}, "encoding": {"y": {"field": "tpm", "type": "quantitative", "title": null}, "shape": {"condition": {"test": "datum.stage==='GV'", "value": "circle"}, "value": "square"}, "color": {"condition": {"test": "datum.stage==='GV'", "value": "#3c0a46"}, "value": "#80003f"}}}
 ]},
{"width": 2, "height": 1, "data": {"values": [{}]}, "mark": {"type": "point", "opacity": 0}, "encoding": {}},
{"width": 154, "height": 212, "data": {"name": "tpm"}, "transform": [{"filter": "datum.set==='50 oocytes'&&datum.gene==='Obox5'"}],
 "encoding": {"x": {"field": "stage", "type": "nominal", "scale": {"domain": ["GV","MII"], "paddingInner": 0.4, "paddingOuter": 0.385}, "axis": {"title": null}}},
 "layer": [
  {"mark": {"type": "bar", "strokeWidth": 3}, "encoding": {"y": {"aggregate": "mean", "field": "tpm", "type": "quantitative", "title": null, "scale": {"domain": [0,500], "nice": false}, "axis": {"values": [0,100,200,300,400,500], "format": "d"}}, "fill": {"condition": {"test": "datum.stage==='GV'", "value": "#8181c1"}, "value": "#f84242"}, "stroke": {"condition": {"test": "datum.stage==='GV'", "value": "#3e1189"}, "value": "#7c0742"}}},
  {"mark": {"type": "errorbar", "extent": "stdev", "ticks": {"size": 30, "thickness": 1.5}, "rule": {"strokeWidth": 1.5}}, "encoding": {"y": {"field": "tpm", "type": "quantitative", "title": null}, "color": {"condition": {"test": "datum.stage==='GV'", "value": "#4a1555"}, "value": "#8a2060"}}},
  {"mark": {"type": "point", "filled": true, "size": 55, "opacity": 1}, "encoding": {"y": {"field": "tpm", "type": "quantitative", "title": null}, "shape": {"condition": {"test": "datum.stage==='GV'", "value": "circle"}, "value": "square"}, "color": {"condition": {"test": "datum.stage==='GV'", "value": "#3c0a46"}, "value": "#80003f"}}}
 ]},
{"width": 10, "height": 1, "data": {"values": [{}]}, "mark": {"type": "point", "opacity": 0}, "encoding": {}},
{"width": 154, "height": 212, "data": {"name": "tpm"}, "transform": [{"filter": "datum.set==='50 oocytes'&&datum.gene==='Oosp1'"}],
 "encoding": {"x": {"field": "stage", "type": "nominal", "scale": {"domain": ["GV","MII"], "paddingInner": 0.4, "paddingOuter": 0.385}, "axis": {"title": null}}},
 "layer": [
  {"mark": {"type": "bar", "strokeWidth": 3}, "encoding": {"y": {"aggregate": "mean", "field": "tpm", "type": "quantitative", "title": null, "scale": {"domain": [0,5000], "nice": false}, "axis": {"values": [0,1000,2000,3000,4000,5000], "format": "d"}}, "fill": {"condition": {"test": "datum.stage==='GV'", "value": "#8181c1"}, "value": "#f84242"}, "stroke": {"condition": {"test": "datum.stage==='GV'", "value": "#3e1189"}, "value": "#7c0742"}}},
  {"mark": {"type": "errorbar", "extent": "stdev", "ticks": {"size": 30, "thickness": 1.5}, "rule": {"strokeWidth": 1.5}}, "encoding": {"y": {"field": "tpm", "type": "quantitative", "title": null}, "color": {"condition": {"test": "datum.stage==='GV'", "value": "#4a1555"}, "value": "#8a2060"}}},
  {"mark": {"type": "point", "filled": true, "size": 55, "opacity": 1}, "encoding": {"y": {"field": "tpm", "type": "quantitative", "title": null}, "shape": {"condition": {"test": "datum.stage==='GV'", "value": "circle"}, "value": "square"}, "color": {"condition": {"test": "datum.stage==='GV'", "value": "#3c0a46"}, "value": "#80003f"}}}
 ]}
]
}
